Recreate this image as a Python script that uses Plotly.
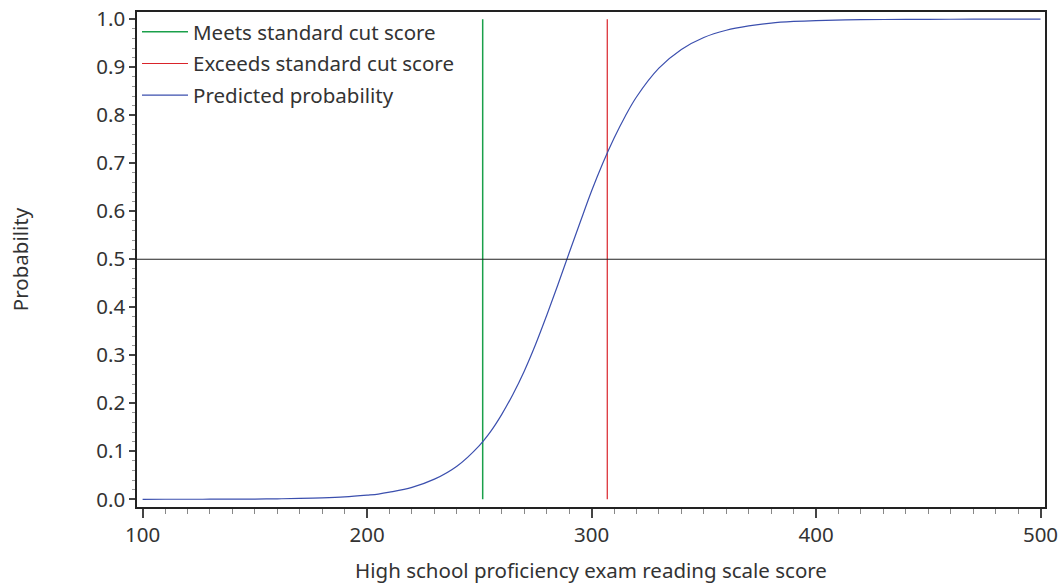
import plotly.graph_objects as go

# Predicted probability curve
scores = [100, 110, 120, 130, 140, 150, 160, 170, 180, 190, 200, 205, 210, 220, 230, 240,
          250, 255, 260, 265, 270, 275, 280, 285, 290, 295, 300, 305, 310, 315, 320, 330,
          340, 350, 360, 370, 380, 390, 400, 420, 440, 460, 480, 500]
probability = [0.0000, 0.0001, 0.0001, 0.0002, 0.0004, 0.0006, 0.0011, 0.0018, 0.0031, 0.0052,
               0.0088, 0.0110, 0.0149, 0.025, 0.042, 0.069,
               0.112, 0.141, 0.177, 0.219, 0.267, 0.322, 0.383, 0.447, 0.513, 0.578, 0.642,
               0.700, 0.752, 0.798, 0.838, 0.898,
               0.937, 0.962, 0.977, 0.986, 0.992, 0.9953, 0.9972, 0.999, 0.9996, 0.9999, 1.0, 1.0]

meets_cut = 251.5
exceeds_cut = 307
reference_prob = 0.5

x_ticks = [100, 200, 300, 400, 500]
y_ticks = [0.0, 0.1, 0.2, 0.3, 0.4, 0.5, 0.6, 0.7, 0.8, 0.9, 1.0]

FONT = "Noto Sans"
FS = 20.5

fig = go.Figure()
fig.add_trace(go.Scatter(x=[meets_cut, meets_cut], y=[0, 1], mode="lines", legendgroup="a",
                         line=dict(color="#1aa04a", width=1.5), name="Meets standard cut score"))
fig.add_trace(go.Scatter(x=[exceeds_cut, exceeds_cut], y=[0, 1], mode="lines", legendgroup="b",
                         line=dict(color="#d9232a", width=1.2), name="Exceeds standard cut score"))
fig.add_trace(go.Scatter(x=scores, y=probability, mode="lines", legendgroup="c",
                         line=dict(color="#3b4fae", width=1.2, shape="spline"),
                         name="Predicted probability"))
fig.add_trace(go.Scatter(x=[97.5, 502], y=[reference_prob, reference_prob], mode="lines",
                         line=dict(color="#222222", width=1.2), showlegend=False, hoverinfo="skip"))

fig.update_layout(
    width=1061, height=584,
    margin=dict(l=137, r=16, t=12, b=77),
    paper_bgcolor="white", plot_bgcolor="white",
    font=dict(family=FONT, size=FS, color="#333333"),
    legend=dict(x=0.0, y=1.0, xanchor="left", yanchor="top", bgcolor="rgba(0,0,0,0)",
                font=dict(size=FS, color="#333333"), tracegroupgap=2, itemwidth=46),
    showlegend=True,
)
fig.update_xaxes(
    range=[97.5, 502], tickvals=x_ticks, ticktext=[str(v) for v in x_ticks],
    automargin=False,
    showgrid=False, zeroline=False, showline=True, linecolor="#222222", linewidth=1.5,
    mirror=True, ticks="outside", ticklen=9, tickcolor="#444444", tickwidth=1.5,
    minor=dict(dtick=10, ticks="outside", ticklen=5, tickcolor="#888888", tickwidth=1),
    title=dict(text="High school proficiency exam reading scale score", standoff=16,
               font=dict(size=FS)),
    tickfont=dict(size=FS),
)
fig.update_yaxes(
    range=[-0.016, 1.015], tickvals=y_ticks, ticktext=[f"{v:.1f}" for v in y_ticks],
    automargin=False,
    showgrid=False, zeroline=False, showline=True, linecolor="#222222", linewidth=1.5,
    mirror=True, ticks="outside", ticklen=6, tickcolor="#444444", tickwidth=1.5,
    minor=dict(dtick=0.02, ticks="outside", ticklen=3, tickcolor="#999999", tickwidth=1),
    title=dict(text="Probability", standoff=62, font=dict(size=FS)),
    tickfont=dict(size=FS),
)

fig.write_html("out.html")
